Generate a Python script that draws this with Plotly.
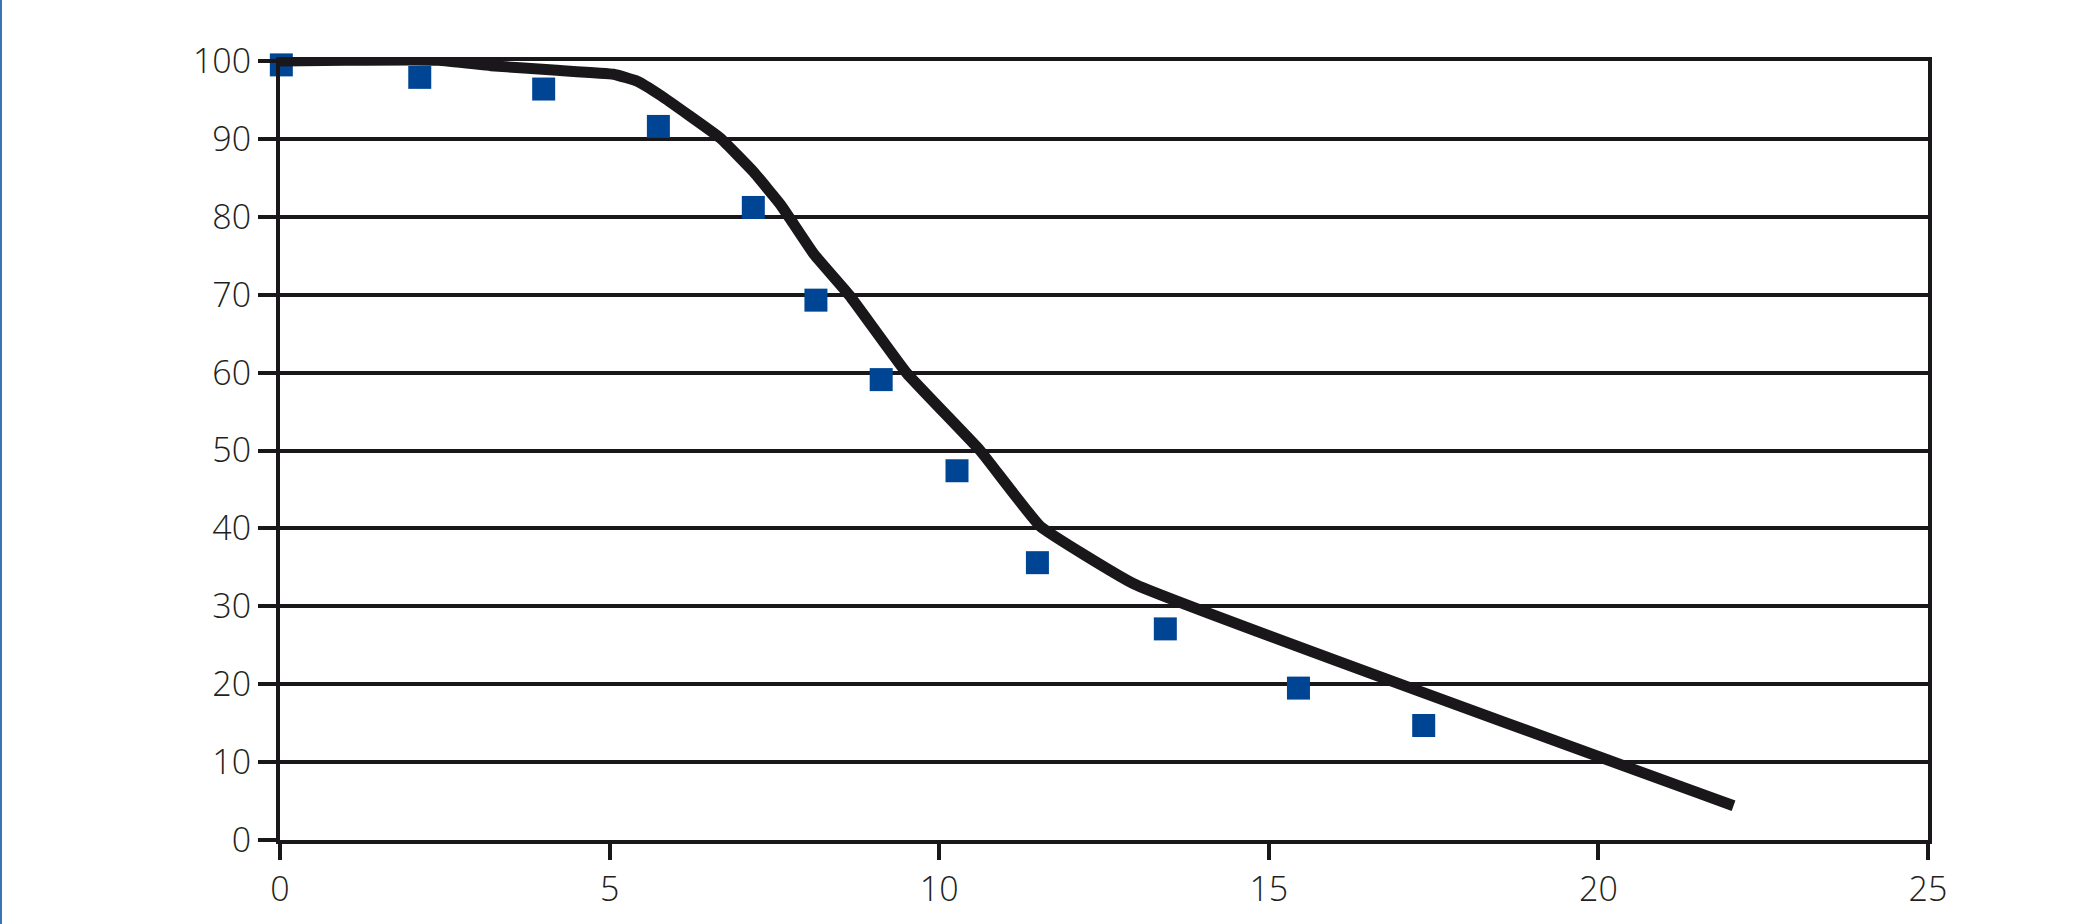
import plotly.graph_objects as go

# Measured data (blue squares)
meas_x = [0.02, 2.12, 4.0, 5.74, 7.18, 8.13, 9.12, 10.27, 11.49, 13.43, 15.45, 17.35]
meas_y = [99.5, 97.9, 96.4, 91.6, 81.2, 69.3, 59.1, 47.4, 35.6, 27.1, 19.5, 14.7]

# Model curve (black line)
curve_x = [0, 1.0, 2.4, 3.2, 4.2, 5.06, 5.42, 5.77, 6.68, 7.18, 7.59, 7.75, 8.1, 8.64, 9.51, 10.62, 11.53, 12.95, 22.05]
curve_y = [100, 100.1, 100.1, 99.4, 98.8, 98.3, 97.4, 95.6, 90.1, 85.8, 81.6, 79.6, 75.2, 69.9, 59.9, 50.0, 40.3, 32.9, 4.4]

x_ticks = [0, 5, 10, 15, 20, 25]
y_ticks = [0, 10, 20, 30, 40, 50, 60, 70, 80, 90, 100]

W, H = 2091, 924
L, R, T, B = 280, 163, 61, 84

fig = go.Figure()
fig.add_trace(go.Scatter(
    x=meas_x, y=meas_y, mode="markers",
    marker=dict(symbol="square", size=23, color="#004494", line=dict(width=0)),
    showlegend=False, cliponaxis=False))
fig.add_trace(go.Scatter(
    x=curve_x, y=curve_y, mode="lines",
    line=dict(color="#1a171b", width=11, shape="spline", smoothing=0.3),
    showlegend=False, cliponaxis=False))

axis_font = dict(family="Open Sans", size=34, color="#231f20", weight=300)
fig.update_layout(
    width=W, height=H,
    margin=dict(l=L, r=R, t=T, b=B, pad=0),
    paper_bgcolor="white", plot_bgcolor="white",
    xaxis=dict(range=[0, 25], tickvals=x_ticks, showgrid=False, zeroline=False,
               showline=True, linecolor="#1a171b", linewidth=4, mirror=True,
               ticks="outside", ticklen=16, tickwidth=4, tickcolor="#1a171b",
               tickfont=axis_font),
    yaxis=dict(range=[0, 100], tickvals=y_ticks, showgrid=True, gridcolor="#1a171b",
               gridwidth=4, zeroline=False,
               showline=True, linecolor="#1a171b", linewidth=4, mirror=True,
               ticks="outside", ticklen=18, tickwidth=4, tickcolor="#1a171b",
               tickfont=axis_font),
    shapes=[dict(type="line", xref="paper", yref="paper",
                 x0=-(L - 1) / (W - L - R), x1=-(L - 1) / (W - L - R),
                 y0=-B / (H - T - B), y1=1 + T / (H - T - B),
                 line=dict(color="#3a73b8", width=2))],
)
fig.write_html("out.html", config={"displayModeBar": False},
               post_script="document.body.style.margin='0';document.body.style.overflow='hidden';")
